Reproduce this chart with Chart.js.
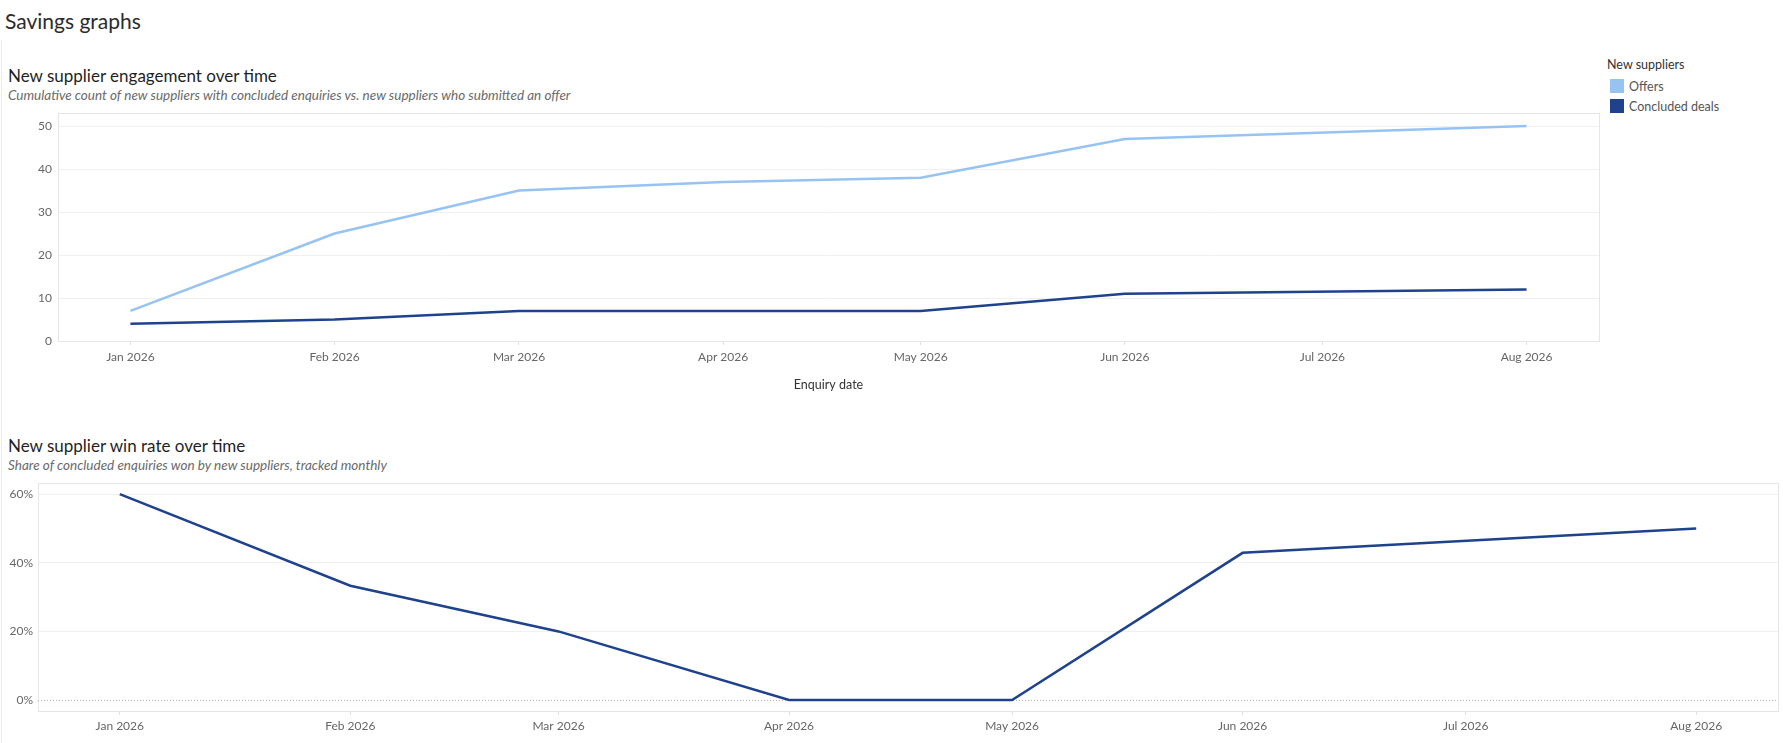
<!DOCTYPE html>
<html>
<head>
<meta charset="utf-8">
<script src="https://cdn.jsdelivr.net/npm/chart.js@4/dist/chart.umd.min.js"></script>
<style>
	html, body { margin: 0; padding: 0; background: #fff; }
	body { width: 1783px; height: 743px; position: relative; overflow: hidden; font-family: Lato, "Noto Sans", sans-serif; line-height: 1.2; }
	.frame { position: absolute; left: 1px; top: 40px; width: 1px; height: 703px; background: #ececec; }
	.page-title { position: absolute; left: 5px; top: 8px; font-size: 21px; color: #2b2b2b; }
	.title { position: absolute; left: 8px; font-size: 17px; color: #1f1f1f; }
	.subtitle { position: absolute; left: 8px; font-size: 13.5px; font-style: italic; color: #6a6a6a; }
	.box { position: absolute; }
	#legend { position: absolute; left: 1607px; top: 57px; font-size: 12.5px; color: #555; }
	#legend .head { color: #333; margin-bottom: 4px; }
	#legend .item { display: flex; align-items: center; height: 20px; padding-left: 3px; }
	#legend .sw { width: 14px; height: 14px; margin-right: 5px; }
</style>
</head>
<body>
<div class="frame"></div>
<div class="page-title">Savings graphs</div>

<div class="title" style="top:66px">New supplier engagement over time</div>
<div class="subtitle" style="top:87px">Cumulative count of new suppliers with concluded enquiries vs. new suppliers who submitted an offer</div>
<div class="box" style="left:0;top:100px;width:1605px;height:298px"><canvas id="engagement"></canvas></div>
<div id="legend"></div>

<div class="title" style="top:436px">New supplier win rate over time</div>
<div class="subtitle" style="top:457px">Share of concluded enquiries won by new suppliers, tracked monthly</div>
<div class="box" style="left:0;top:471px;width:1783px;height:272px"><canvas id="winrate"></canvas></div>

<script>
// months with data (no July point in the source)
const months = ['2026-01-01', '2026-02-01', '2026-03-01', '2026-04-01', '2026-05-01', '2026-06-01', '2026-08-01'];
const offers = [7, 25, 35, 37, 38, 47, 50];
const concludedDeals = [4, 5, 7, 7, 7, 11, 12];
const winRate = [60, 33.3, 20, 0, 0, 42.9, 50];

const tickMonths = ['2026-01-01', '2026-02-01', '2026-03-01', '2026-04-01', '2026-05-01', '2026-06-01', '2026-07-01', '2026-08-01'];
const tickLabels = ['Jan 2026', 'Feb 2026', 'Mar 2026', 'Apr 2026', 'May 2026', 'Jun 2026', 'Jul 2026', 'Aug 2026'];
const countTicks = [0, 10, 20, 30, 40, 50];
const rateTicks = [0, 20, 40, 60];

const LIGHT = '#97c3f3';
const DARK = '#1e438c';

// day number from 1 Jan 2026, used as the x value
function day(d) {
	return (Date.parse(d) - Date.parse('2026-01-01')) / 86400000;
}
const tickDays = tickMonths.map(day);

function points(values) {
	return months.map((m, i) => ({ x: day(m), y: values[i] }));
}

const tickFont = { family: 'Lato', size: 12 };

// light box round the plot area, like the original
const boxPlugin = {
	id: 'box',
	beforeDatasetsDraw(chart) {
		const a = chart.chartArea, ctx = chart.ctx;
		ctx.save();
		ctx.strokeStyle = '#e6e6e6';
		ctx.lineWidth = 1;
		ctx.strokeRect(Math.round(a.left) + 0.5, Math.round(a.top) + 0.5, Math.round(a.right - a.left), Math.round(a.bottom - a.top));
		const zl = chart.options.plugins.box && chart.options.plugins.box.zeroLine;
		if (zl) {
			const y = Math.round(chart.scales.y.getPixelForValue(0)) + 0.5;
			ctx.strokeStyle = '#b5b5b5';
			ctx.setLineDash([1, 2]);
			ctx.beginPath();
			ctx.moveTo(a.left, y);
			ctx.lineTo(a.right, y);
			ctx.stroke();
		}
		ctx.restore();
	}
};

function xScale(height, pad, title) {
	return {
		type: 'linear',
		min: -11,
		max: 223,
		afterFit: s => { s.height = height; },
		afterBuildTicks: s => { s.ticks = tickDays.map(v => ({ value: v })); },
		ticks: {
			autoSkip: false,
			maxRotation: 0,
			padding: pad,
			color: '#666',
			font: tickFont,
			callback: (v) => tickLabels[tickDays.indexOf(v)]
		},
		grid: { drawOnChartArea: false, drawTicks: true, tickLength: 4, tickColor: '#e0e0e0' },
		border: { display: false },
		title: title
	};
}

const engagement = new Chart(document.getElementById('engagement'), {
	type: 'line',
	data: {
		datasets: [
			{ label: 'Offers', data: points(offers), borderColor: LIGHT, backgroundColor: LIGHT, borderWidth: 2.5, pointRadius: 0, tension: 0 },
			{ label: 'Concluded deals', data: points(concludedDeals), borderColor: DARK, backgroundColor: DARK, borderWidth: 2.5, pointRadius: 0, tension: 0 }
		]
	},
	options: {
		responsive: true,
		maintainAspectRatio: false,
		animation: false,
		layout: { padding: { top: 0, right: 6, left: 0, bottom: 0 } },
		plugins: { legend: { display: false }, tooltip: { enabled: false } },
		scales: {
			x: xScale(57, 5, { display: true, text: 'Enquiry date', color: '#333', font: { family: 'Lato', size: 12.5 }, padding: { top: 0, bottom: 6 } }),
			y: {
				min: 0,
				max: 53,
				afterFit: s => { s.width = 58; },
				afterBuildTicks: s => { s.ticks = countTicks.map(v => ({ value: v })); },
				ticks: { padding: 6, color: '#666', font: tickFont },
				grid: { color: '#f0f0f0', drawTicks: false },
				border: { display: false }
			}
		}
	},
	plugins: [boxPlugin]
});

const winrate = new Chart(document.getElementById('winrate'), {
	type: 'line',
	data: {
		datasets: [
			{ label: 'Win rate', data: points(winRate), borderColor: DARK, borderWidth: 2.5, pointRadius: 0, tension: 0 }
		]
	},
	options: {
		responsive: true,
		maintainAspectRatio: false,
		animation: false,
		layout: { padding: { top: 0, right: 5, left: 0, bottom: 0 } },
		plugins: { legend: { display: false }, tooltip: { enabled: false }, box: { zeroLine: true } },
		scales: {
			x: xScale(32, 4, { display: false }),
			y: {
				min: -3.2,
				max: 63.2,
				afterFit: s => { s.width = 38; },
				afterBuildTicks: s => { s.ticks = rateTicks.map(v => ({ value: v })); },
				ticks: { padding: 5, color: '#666', font: tickFont, callback: v => v + '%' },
				grid: { color: ctx => ctx.tick && ctx.tick.value === 0 ? 'rgba(0,0,0,0)' : '#f0f0f0', drawTicks: false },
				border: { display: false }
			}
		}
	},
	plugins: [boxPlugin]
});

// legend built from the first chart's datasets
const legend = document.getElementById('legend');
let html = '<div class="head">New suppliers</div>';
engagement.data.datasets.forEach(ds => {
	html += '<div class="item"><span class="sw" style="background:' + ds.borderColor + '"></span>' + ds.label + '</div>';
});
legend.innerHTML = html;
</script>
</body>
</html>
